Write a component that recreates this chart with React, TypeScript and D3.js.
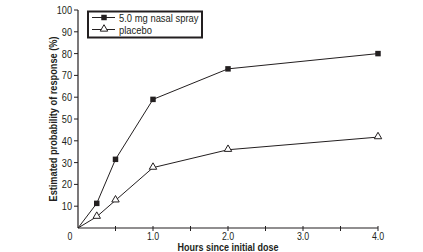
import React from "react";
import * as d3 from "d3";

const hours = [0, 0.25, 0.5, 1.0, 2.0, 4.0];
const nasalSpray = [0, 11.3, 31.5, 59, 73, 80];
const placebo = [0, 5.2, 12.7, 27.7, 35.9, 41.7];
const yTicks = [10, 20, 30, 40, 50, 60, 70, 80, 90, 100];
const xTicks = [0.5, 1.0, 1.5, 2.0, 2.5, 3.0, 3.5, 4.0];
const xLabels = ["1.0", "2.0", "3.0", "4.0"];
const seriesNames = ["5.0 mg nasal spray", "placebo"];

const font = "'Liberation Sans', Arial, sans-serif";
const ink = "#231f20";

// narrow text: the original uses a condensed face, so squeeze Liberation Sans
const Narrow = ({ x, y, anchor = "start", size = 11.5, k = 0.8, children }: any) => (
  <text
    transform={`translate(${x},${y}) scale(${k},1)`}
    textAnchor={anchor}
    fontSize={size}
    fill={ink}
  >
    {children}
  </text>
);

const App = () => {
  const width = 423;
  const height = 252;
  const margin = { top: 10, right: 45, bottom: 24, left: 78 };

  const x = d3.scaleLinear().domain([0, 4]).range([margin.left, width - margin.right]);
  const y = d3.scaleLinear().domain([0, 100]).range([height - margin.bottom, margin.top]);

  const line = d3
    .line<number>()
    .x((_, i) => x(hours[i]))
    .y((d) => y(d));

  const tri = d3.symbol().type(d3.symbolTriangle).size(24)();
  const sq = d3.symbol().type(d3.symbolSquare).size(30)();

  return (
    <svg
      width={width}
      height={height}
      style={{ position: "absolute", left: 0, top: 0, background: "#fff" }}
      fontFamily={font}
    >
      {/* axes */}
      <line x1={x(0)} x2={x(4)} y1={y(0)} y2={y(0)} stroke={ink} strokeWidth={1.2} />
      <line x1={x(0)} x2={x(0)} y1={y(0)} y2={y(100)} stroke={ink} strokeWidth={1.2} />
      {xTicks.map((t) => (
        <line key={t} x1={x(t)} x2={x(t)} y1={y(0) - 2} y2={y(0) + 3} stroke={ink} strokeWidth={1} />
      ))}
      {xLabels.map((t) => (
        <Narrow key={t} x={x(+t)} y={y(0) + 12} size={11} anchor="middle">
          {t}
        </Narrow>
      ))}
      <Narrow x={x(0) - 8} y={y(0) + 12} size={11} anchor="middle">
        0
      </Narrow>
      {yTicks.map((t) => (
        <g key={t}>
          <line x1={x(0) - 4} x2={x(0)} y1={y(t)} y2={y(t)} stroke={ink} strokeWidth={1} />
          <Narrow x={x(0) - 6} y={y(t) + 4} anchor="end">
            {t}
          </Narrow>
        </g>
      ))}
      <text
        transform={`translate(56.5, ${y(50)}) rotate(-90)`}
        textAnchor="middle"
        fontSize={11}
        fontWeight="bold"
        fill={ink}
        textLength={165}
        lengthAdjust="spacingAndGlyphs"
      >
        Estimated probability of response (%)
      </text>
      <text
        x={x(2)}
        y={y(0) + 23}
        textAnchor="middle"
        fontSize={10.5}
        fontWeight="bold"
        fill={ink}
        textLength={101}
        lengthAdjust="spacingAndGlyphs"
      >
        Hours since initial dose
      </text>

      {/* series */}
      <path d={line(nasalSpray) ?? ""} fill="none" stroke={ink} strokeWidth={1} />
      <path d={line(placebo) ?? ""} fill="none" stroke={ink} strokeWidth={1} />
      {nasalSpray.slice(1).map((v, i) => (
        <path key={i} d={sq ?? ""} transform={`translate(${x(hours[i + 1])},${y(v)})`} fill={ink} />
      ))}
      {placebo.slice(1).map((v, i) => (
        <path
          key={i}
          d={tri ?? ""}
          transform={`translate(${x(hours[i + 1])},${y(v) - 0.5})`}
          fill="#fff"
          stroke={ink}
          strokeWidth={1}
        />
      ))}

      {/* legend */}
      <g>
        <rect x={88} y={11.5} width={114} height={26} fill="#fff" stroke={ink} strokeWidth={2} />
        {seriesNames.map((name, i) => (
          <g key={name}>
            <line x1={92} x2={115} y1={17.5 + i * 12} y2={17.5 + i * 12} stroke={ink} strokeWidth={1} />
            {i === 0 ? (
              <path d={sq ?? ""} transform={`translate(104,${17.5 + i * 12})`} fill={ink} />
            ) : (
              <path
                d={tri ?? ""}
                transform={`translate(104,${17 + i * 12})`}
                fill="#fff"
                stroke={ink}
                strokeWidth={1}
              />
            )}
            <Narrow x={119} y={21.5 + i * 12} size={11.5} k={0.82}>
              {name}
            </Narrow>
          </g>
        ))}
      </g>
    </svg>
  );
};

export default App;
